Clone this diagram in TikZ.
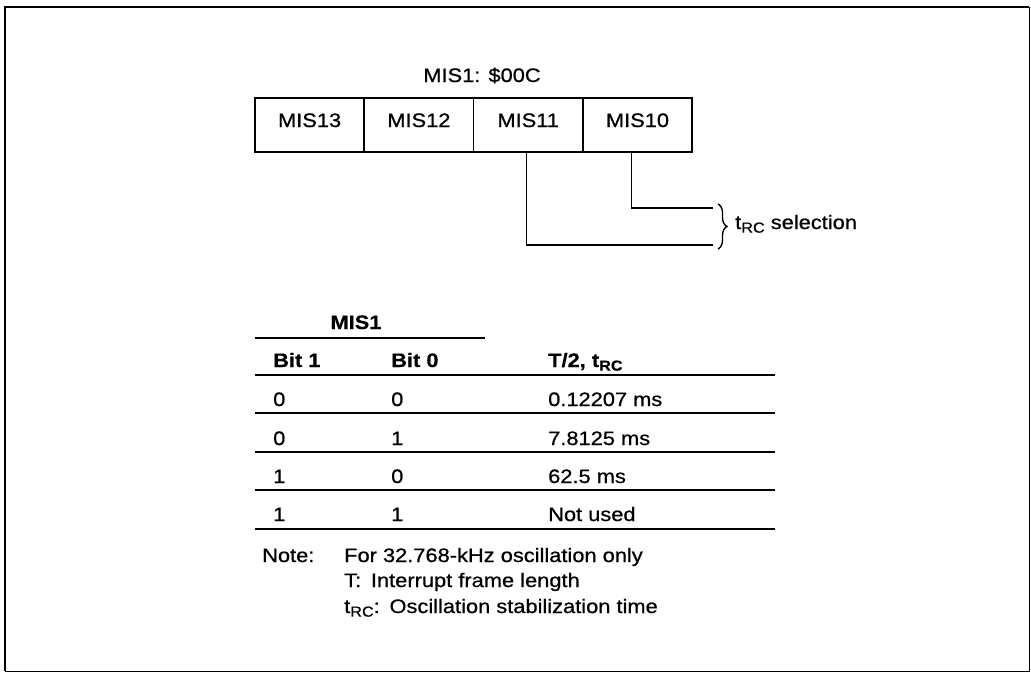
\documentclass[tikz,border=0pt]{standalone}
\usepackage{fontspec}
\setmainfont{Liberation Sans}[FakeStretch=1.12, UprightFeatures={FakeBold=0.7}, BoldFeatures={FakeBold=0.4}]
\usetikzlibrary{decorations.pathreplacing}
\newcommand\sbs[1]{\raisebox{-0.35ex}{\fontsize{14.5}{14.5}\selectfont #1}}
\begin{document}
\begin{tikzpicture}[x=1pt,y=-1pt, font=\fontsize{19.5}{23}\selectfont,
  cell/.style={draw, line width=1.8pt, minimum width=109.3pt, minimum height=54pt,
    inner sep=0pt, text height=14pt, text depth=10pt},
  txt/.style={inner sep=0pt, text height=14pt, text depth=0pt},
  lbl/.style={txt, anchor=west},
  conn/.style={line width=1.4pt},
  thickrule/.style={line width=2.6pt},
  thinrule/.style={line width=1.7pt}]
\useasboundingbox (0,0) rectangle (1031,673);
% frame
\draw[line width=2.5pt] (5,671) -- (5,7) -- (1029,7);
\draw[line width=0.9pt] (1029,7) -- (1029,671) -- (5,671);
% register
\node[txt] (title) at (482,75) {MIS1: \$00C};
\node[cell] (m13) at (309.6,125) {MIS13};
\node[cell] (m12) at (418.9,125) {MIS12};
\node[cell] (m11) at (528.2,125) {MIS11};
\node[cell] (m10) at (637.5,125) {MIS10};
\coordinate (b10) at (713,208);
\coordinate (b11) at (713,245);
\draw[conn] ([xshift=-6pt]m10.south) |- (b10);
\draw[conn] ([xshift=-2pt]m11.south) |- (b11);
\coordinate (brt) at (718,204);
\coordinate (brb) at (718,249);
\draw[conn, decorate, decoration={brace, amplitude=9pt}] (brt) -- (brb);
\node[lbl] (sel) at (735,222) {t\sbs{RC} selection};
% table
\node[txt] (hmis) at (356,322) {\bfseries MIS1};
\draw[thinrule] (255,338) -- (485,338);
\node[lbl] (hb1) at (273,360) {\bfseries Bit 1};
\node[lbl] (hb0) at (391,360) {\bfseries Bit 0};
\node[lbl] (ht) at (548,360) {\bfseries T/2, t\sbs{RC}};
\draw[thickrule] (255,375) -- (775,375);
\node[lbl] (r1a) at (273,399) {0};
\node[lbl] (r1b) at (391,399) {0};
\node[lbl] (r1c) at (548,399) {0.12207 ms};
\draw[thinrule] (255,413) -- (775,413);
\node[lbl] (r2a) at (273,438) {0};
\node[lbl] (r2b) at (391,438) {1};
\node[lbl] (r2c) at (548,438) {7.8125 ms};
\draw[thinrule] (255,452) -- (775,452);
\node[lbl] (r3a) at (273,476) {1};
\node[lbl] (r3b) at (391,476) {0};
\node[lbl] (r3c) at (548,476) {62.5 ms};
\draw[thinrule] (255,490) -- (775,490);
\node[lbl] (r4a) at (273,514) {1};
\node[lbl] (r4b) at (391,514) {1};
\node[lbl] (r4c) at (548,514) {Not used};
\draw[thickrule] (255,529) -- (775,529);
% notes
\node[lbl] (note) at (262,555) {Note:};
\node[lbl] (n1) at (344,555) {For 32.768-kHz oscillation only};
\node[lbl] (n2) at (344,580) {T:\hspace{0.5em}Interrupt frame length};
\node[lbl] (n3) at (344,606) {t\sbs{RC}:\hspace{0.5em}Oscillation stabilization time};
\end{tikzpicture}
\end{document}
